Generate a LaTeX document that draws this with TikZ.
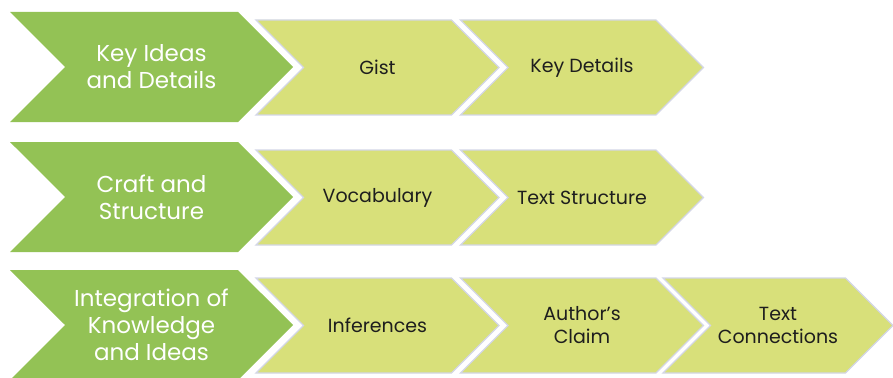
\documentclass[tikz,border=0pt]{standalone}
\usepackage{fontspec}
\setmainfont{Poppins}
\usetikzlibrary{shapes.symbols}
\definecolor{leadgreen}{HTML}{93C255}
\definecolor{partlime}{HTML}{D8E07A}
\definecolor{partedge}{HTML}{D3D6E6}
\definecolor{inktext}{HTML}{1E1E1E}

\begin{document}
\begin{tikzpicture}[
    x=1pt, y=-1pt,
    chevron/.style={signal, signal from=west, signal to=east, signal pointer angle=90, inner sep=0pt, align=center},
    lead/.style={chevron, fill=leadgreen, minimum width=283pt, minimum height=110pt, text=white, font=\fontsize{23}{27}\selectfont},
    part/.style={chevron, fill=partlime, draw=partedge, line width=1.3pt, minimum width=#1, minimum height=95pt, text=inktext, font=\fontsize{19}{23}\selectfont},
    part/.default=243pt,
]
\useasboundingbox (0,0) rectangle (893,377);
% first row
\node[lead] (ideas) at (151.5,67) {Key Ideas\\and Details};
\node[part] (gist) at (377.5,67.5) {Gist};
\node[part] (details) at (582,67.5) {Key Details};
% second row
\node[lead] (craft) at (151.5,197) {Craft and\\Structure};
\node[part] (vocab) at (377.5,197.5) {Vocabulary};
\node[part] (structure) at (582,197.5) {Text Structure};
% third row
\node[lead] (integ) at (151.5,325) {Integration of\\Knowledge\\and Ideas};
\node[part] (infer) at (377.5,325.5) {Inferences};
\node[part] (claim) at (582,325.5) {Author's\\Claim};
\node[part=230pt] (connect) at (778,325.5) {Text\\Connections};
\end{tikzpicture}
\end{document}
